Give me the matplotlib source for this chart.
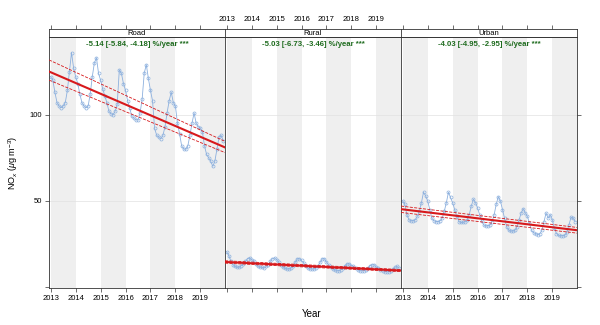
import numpy as np
import matplotlib
matplotlib.use("Agg")
import matplotlib.pyplot as plt

plt.rcParams["font.family"] = ["Liberation Sans", "DejaVu Sans"]
plt.rcParams["mathtext.fontset"] = "custom"
plt.rcParams["mathtext.rm"] = "Liberation Sans"
plt.rcParams["mathtext.it"] = "Liberation Sans:italic"

# ── Data (monthly means, Jan 2013 – Dec 2019) ──────────────────
sites = ["Road", "Rural", "Urban"]
years = list(range(2013, 2020))

road = [122, 120, 113, 107, 105, 104, 105, 107, 114, 125, 136, 127,
        122, 118, 112, 107, 105, 104, 105, 112, 122, 130, 133, 124,
        120, 115, 111, 107, 102, 100.5, 100, 102, 106, 126, 124, 118,
        114, 108, 104, 99, 98, 97, 97, 101, 109, 124, 129, 121,
        114, 108, 92, 88, 87, 86, 88, 93, 101, 108, 113, 107,
        105, 95, 89, 82, 80, 80, 82, 88, 95, 101, 95, 93,
        92, 90, 82, 77, 75, 73, 70, 73, 80, 87, 88, 85]

rural = [20.5, 18.3, 15, 13, 12, 11.5, 11.5, 12.5, 13.5, 15, 16.5, 17,
         16, 15, 13.5, 12, 11.5, 11.5, 11, 12, 13, 15, 16.5, 17,
         16, 14.5, 13, 11.5, 11, 10.5, 10.5, 11, 12.5, 14.5, 16.5, 16.5,
         15.5, 14, 12.5, 11, 10.5, 10.5, 10.5, 11, 12.5, 14.5, 16.5, 16.5,
         14.5, 13, 11.5, 10.5, 10, 9.5, 9.5, 10, 11, 12.5, 13.5, 13.5,
         12.5, 12, 11, 10, 9.5, 9.5, 9.5, 10, 11, 12.5, 13, 13,
         11.5, 11, 10, 9.5, 9, 9, 9, 9.5, 10.5, 11.5, 12, 11]

urban = [50, 48, 42, 39, 38.5, 38.5, 39, 41, 44, 49, 55, 53,
         50, 45, 40, 38.5, 38, 38, 38.5, 40, 44, 49, 55, 52,
         49, 45, 41, 38, 37.5, 37.5, 38, 39, 42, 47, 51, 49,
         46, 42, 38.5, 36, 35.5, 35.5, 36, 38, 42, 48, 52.5, 50,
         45, 40, 35, 33, 32.5, 32.5, 33, 35, 39, 43, 45.5, 43,
         41, 37, 33, 31.5, 31, 30.5, 31, 33, 38, 43, 40, 42,
         39, 34, 31, 30, 29.8, 29.8, 30, 32, 36, 40.5, 40, 38]

# Theil-Sen trend (value at left / right edge of panel) and 95% CI lines
trend_mid = [[125, 81], [14.6, 9.6], [45.2, 33.0]]
trend_upper = [[131.7, 84.5], [15.3, 10.2], [47.0, 34.6]]
trend_lower = [[120, 78], [13.9, 9.0], [43.3, 31.3]]
trend_text = ["-5.14 [-5.84, -4.18] %/year ***",
              "-5.03 [-6.73, -3.46] %/year ***",
              "-4.03 [-4.95, -2.95] %/year ***"]

series = [road, rural, urban]
t = np.array([y + m / 12 for y in years for m in range(12)])
xlim = (2012.93, 2019.99)

# ── Figure ─────────────────────────────────────────────────────
W, H = 600, 325
fig = plt.figure(figsize=(6, 3.25), dpi=100)
lefts = [49, 225, 401]
pw = 176
top, bot, strip_h = 37, 288, 8

for i, site in enumerate(sites):
    ax = fig.add_axes([lefts[i] / W, 1 - bot / H, pw / W, (bot - top) / H])
    sx = fig.add_axes([lefts[i] / W, 1 - top / H, pw / W, strip_h / H], sharex=ax)

    # alternating year shading
    for y in years[::2]:
        ax.axvspan(y, y + 1, color="#efefef", lw=0, zorder=0)
    for yy in [50, 100]:
        ax.axhline(yy, color="#e2e2e2", lw=0.5, zorder=0.5)

    ax.plot(t, series[i], color="#8cb0de", lw=0.6, marker="o", ms=2.2,
            mfc="none", mec="#8cb0de", mew=0.5, zorder=2)
    ax.plot(xlim, trend_mid[i], color="#d7191c", lw=1.5, zorder=3)
    ax.plot(xlim, trend_upper[i], color="#d7191c", lw=0.6, ls="--", zorder=3)
    ax.plot(xlim, trend_lower[i], color="#d7191c", lw=0.6, ls="--", zorder=3)
    ax.text(0.5, 0.985, trend_text[i], transform=ax.transAxes, ha="center",
            va="top", fontsize=5.6, fontweight="bold", color="#1e6b1e")

    ax.set_xlim(xlim)
    ax.set_ylim(-0.5, 145)
    ax.set_xticks(years)
    ax.set_yticks([0, 50, 100])
    for sp in ax.spines.values():
        sp.set_linewidth(0.6)
        sp.set_color("#333333")
    ax.tick_params(axis="both", length=3, width=0.5, labelsize=5.5, pad=2,
                   color="#333333")
    ax.tick_params(axis="x", top=False)

    if i == 1:
        ax.tick_params(axis="x", labelbottom=False)
    else:
        ax.set_xticklabels([str(y) for y in years])
    if i == 0:
        ax.set_yticklabels(["", "50", "100"])
    elif i == 1:
        ax.tick_params(axis="y", left=False, labelleft=False)
    else:
        ax.tick_params(axis="y", left=False, labelleft=False, right=True)

    # strip
    sx.set_facecolor("white")
    sx.set_yticks([])
    sx.tick_params(axis="x", bottom=False, labelbottom=False, top=True,
                   labeltop=(i == 1), length=3, width=0.5, labelsize=5.5,
                   pad=1.5, color="#333333")
    for sp in sx.spines.values():
        sp.set_linewidth(0.6)
        sp.set_color("#333333")
    sx.text(0.5, 0.45, site, transform=sx.transAxes, ha="center", va="center",
            fontsize=5.5)

fig.text(0.022, 0.50, r"NO$_x$ ($\mu$g m$^{-3}$)", rotation=90,
         ha="center", va="center", fontsize=6.5)
fig.text(0.52, 0.034, "Year", ha="center", va="center", fontsize=7)

fig.savefig("out.png", dpi=100)
